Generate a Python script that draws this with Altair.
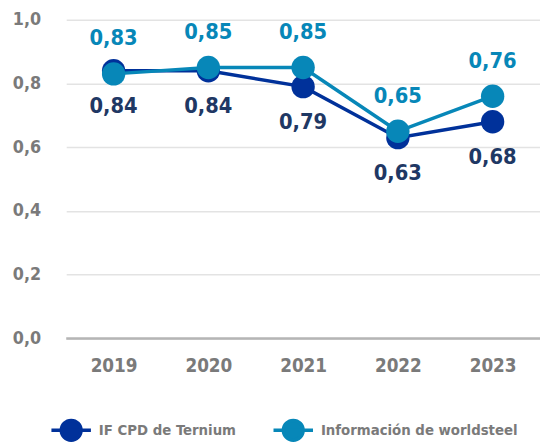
import altair as alt
import pandas as pd

years = ["2019", "2020", "2021", "2022", "2023"]
ternium = [0.84, 0.84, 0.79, 0.63, 0.68]
worldsteel = [0.83, 0.85, 0.85, 0.65, 0.76]
series = ["IF CPD de Ternium", "Información de worldsteel"]
colors = ["#00319a", "#0787b8"]
label_colors = ["#1f3864", "#0787b8"]
y_ticks = [0.0, 0.2, 0.4, 0.6, 0.8, 1.0]

rows = []
for s, vals in zip(series, [ternium, worldsteel]):
    for yr, v in zip(years, vals):
        rows.append({"year": yr, "value": v, "series": s})
df = pd.DataFrame(rows)

FONT = "DejaVu Sans Condensed, Roboto, sans-serif"
GRAY = "#7a7a7a"

x = alt.X("year:O", title=None,
          axis=alt.Axis(labelAngle=0, labelFont=FONT, labelFontSize=19, labelFontWeight="bold",
                        labelColor=GRAY, labelPadding=18, domain=False, ticks=False, grid=False))
y = alt.Y("value:Q", title=None,
          scale=alt.Scale(domain=[0, 1], nice=False),
          axis=alt.Axis(values=y_ticks, labelExpr="replace(format(datum.value, '.1f'), '.', ',')",
                        labelFont=FONT, labelFontSize=18, labelFontWeight="bold", labelColor=GRAY,
                        labelPadding=26, domain=False, ticks=False, gridColor="#e3e3e3", gridWidth=1.5))

color = alt.Color("series:N", scale=alt.Scale(domain=series, range=colors),
                  legend=alt.Legend(title=None, orient="none", direction="horizontal",
                                    legendX=-17, legendY=394,
                                    symbolType="M-1,0L1,0M-0.5,0A0.5,0.5 0 1,1 0.5,0A0.5,0.5 0 1,1 -0.5,0Z",
                                    symbolSize=1600, symbolStrokeWidth=3.5,
                                    labelFont=FONT, labelFontSize=15, labelFontWeight="bold",
                                    labelColor=GRAY, labelOffset=6, columnPadding=30, labelLimit=400))

base = alt.Chart(df)

zero = alt.Chart(pd.DataFrame({"v": [0.0]})).mark_rule(color="#b5b5b5", strokeWidth=2.5).encode(y="v:Q")

layers = [zero]
for i, s in enumerate(series):
    sub = base.transform_filter(alt.datum.series == s)
    layers.append(sub.mark_line(strokeWidth=3.5).encode(x=x, y=y, color=color))
    layers.append(sub.mark_point(filled=True, size=560, opacity=1).encode(x=x, y=y, color=color))

for i, s in enumerate(series):
    sub = base.transform_filter(alt.datum.series == s).transform_calculate(
        lbl="replace(format(datum.value, '.2f'), '.', ',')")
    layers.append(sub.mark_text(font=FONT, fontSize=22, fontWeight="bold", color=label_colors[i],
                                dy=36 if i == 0 else -36).encode(x=x, y=y, text="lbl:N"))

chart = alt.layer(*layers).properties(
    width=480, height=323,
    autosize=alt.AutoSizeParams(type="none"),
    padding={"left": 59, "top": 9, "right": 0, "bottom": 102},
).configure_view(stroke=None)

chart.save("out.html", embed_options={"renderer": "svg", "actions": False})
